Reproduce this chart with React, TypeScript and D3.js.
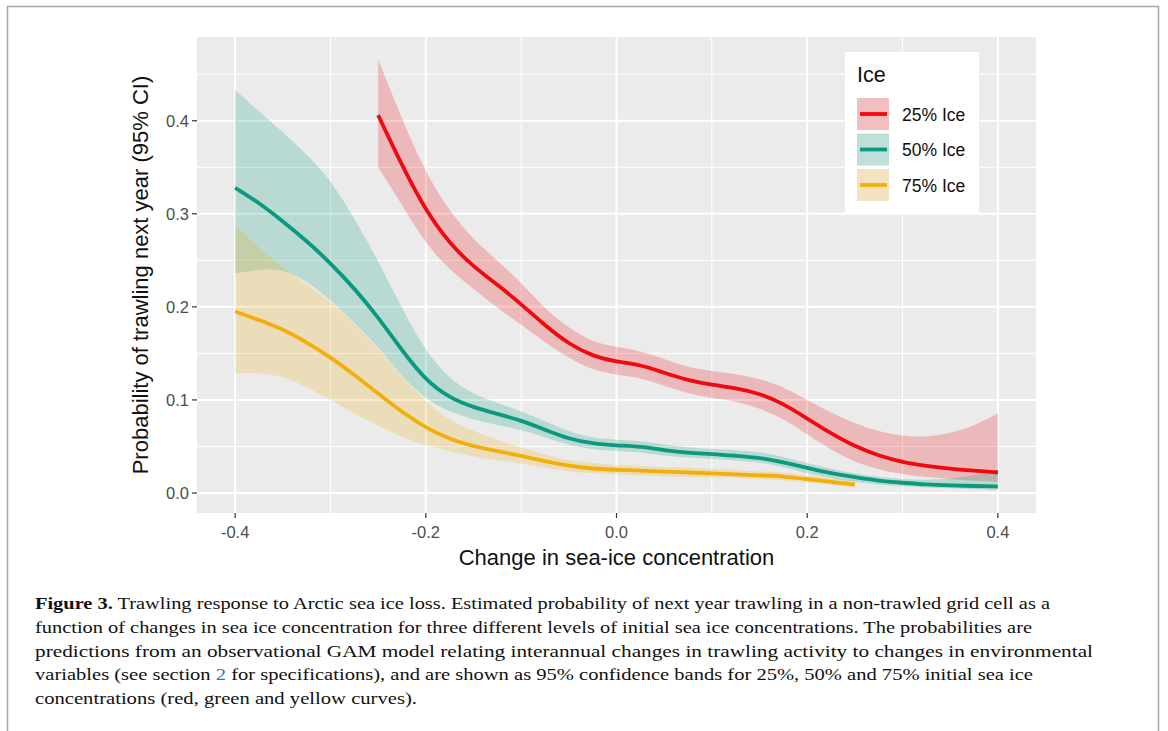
import React from "react";
import * as d3 from "d3";

// ---------- data ----------
const xRed = [-0.25, -0.225, -0.2, -0.175, -0.15, -0.125, -0.1, -0.075, -0.05, -0.025, 0, 0.025, 0.05, 0.075, 0.1, 0.125, 0.15, 0.175, 0.2, 0.225, 0.25, 0.275, 0.3, 0.325, 0.35, 0.375, 0.4];
const redFit = [0.406, 0.352, 0.303, 0.268, 0.243, 0.224, 0.203, 0.18, 0.16, 0.147, 0.141, 0.138, 0.129, 0.121, 0.116, 0.113, 0.107, 0.096, 0.08, 0.064, 0.05, 0.04, 0.033, 0.029, 0.026, 0.024, 0.022];
const redUpper = [0.466, 0.402, 0.343, 0.303, 0.272, 0.25, 0.226, 0.198, 0.177, 0.162, 0.157, 0.153, 0.144, 0.135, 0.131, 0.128, 0.123, 0.114, 0.1, 0.086, 0.075, 0.066, 0.061, 0.06, 0.064, 0.072, 0.086];
const redLower = [0.35, 0.31, 0.267, 0.24, 0.219, 0.199, 0.181, 0.162, 0.145, 0.132, 0.127, 0.124, 0.115, 0.107, 0.102, 0.099, 0.091, 0.08, 0.063, 0.046, 0.033, 0.025, 0.02, 0.017, 0.015, 0.013, 0.012];

const xGreen = [-0.4, -0.375, -0.35, -0.325, -0.3, -0.275, -0.25, -0.225, -0.2, -0.175, -0.15, -0.125, -0.1, -0.075, -0.05, -0.025, 0, 0.025, 0.05, 0.075, 0.1, 0.125, 0.15, 0.175, 0.2, 0.225, 0.25, 0.275, 0.3, 0.325, 0.35, 0.375, 0.4];
const greenFit = [0.328, 0.312, 0.292, 0.271, 0.247, 0.22, 0.189, 0.153, 0.121, 0.102, 0.092, 0.085, 0.078, 0.068, 0.058, 0.053, 0.051, 0.05, 0.046, 0.043, 0.042, 0.04, 0.038, 0.033, 0.027, 0.021, 0.017, 0.013, 0.011, 0.009, 0.008, 0.0075, 0.007];
const greenUpper = [0.433, 0.41, 0.388, 0.364, 0.337, 0.295, 0.25, 0.198, 0.152, 0.122, 0.106, 0.097, 0.088, 0.077, 0.066, 0.059, 0.057, 0.056, 0.052, 0.049, 0.047, 0.046, 0.044, 0.039, 0.032, 0.026, 0.021, 0.017, 0.015, 0.014, 0.015, 0.019, 0.025];
const greenLower = [0.236, 0.24, 0.241, 0.228, 0.207, 0.183, 0.157, 0.125, 0.1, 0.087, 0.079, 0.073, 0.068, 0.06, 0.051, 0.047, 0.045, 0.044, 0.04, 0.038, 0.037, 0.035, 0.033, 0.028, 0.021, 0.016, 0.012, 0.009, 0.007, 0.006, 0.005, 0.004, 0.003];

const xYellow = [-0.4, -0.375, -0.35, -0.325, -0.3, -0.275, -0.25, -0.225, -0.2, -0.175, -0.15, -0.125, -0.1, -0.075, -0.05, -0.025, 0, 0.025, 0.05, 0.075, 0.1, 0.125, 0.15, 0.175, 0.2, 0.225, 0.25];
const yellowFit = [0.195, 0.186, 0.176, 0.162, 0.146, 0.127, 0.107, 0.087, 0.07, 0.058, 0.05, 0.045, 0.04, 0.034, 0.029, 0.026, 0.025, 0.024, 0.023, 0.022, 0.021, 0.02, 0.019, 0.018, 0.015, 0.012, 0.009];
const yellowUpper = [0.288, 0.263, 0.242, 0.225, 0.206, 0.182, 0.155, 0.125, 0.098, 0.078, 0.066, 0.057, 0.049, 0.041, 0.035, 0.032, 0.03, 0.029, 0.028, 0.027, 0.026, 0.025, 0.023, 0.022, 0.019, 0.016, 0.013];
const yellowLower = [0.129, 0.129, 0.126, 0.114, 0.1, 0.085, 0.072, 0.06, 0.051, 0.045, 0.039, 0.035, 0.032, 0.027, 0.023, 0.021, 0.02, 0.019, 0.018, 0.017, 0.017, 0.016, 0.015, 0.014, 0.011, 0.009, 0.006];

const seriesNames = ["25% Ice", "50% Ice", "75% Ice"];
const seriesColors = ["#f00a0f", "#0b9980", "#f2ae0c"];

const xTicks = [-0.4, -0.2, 0.0, 0.2, 0.4];
const xMinor = [-0.3, -0.1, 0.1, 0.3];
const yTicks = [0.0, 0.1, 0.2, 0.3, 0.4];
const yMinor = [0.05, 0.15, 0.25, 0.35, 0.45];

const xTitle = "Change in sea-ice concentration";
const yTitle = "Probability of trawling next year (95% CI)";
const legendTitle = "Ice";

const captionLines = [
  { bold: "Figure 3.", parts: [" Trawling response to Arctic sea ice loss. Estimated probability of next year trawling in a non-trawled grid cell as a"], end: 1050 },
  { bold: "", parts: ["function of changes in sea ice concentration for three different levels of initial sea ice concentrations. The probabilities are"], end: 1032 },
  { bold: "", parts: ["predictions from an observational GAM model relating interannual changes in trawling activity to changes in environmental"], end: 1093 },
  { bold: "", parts: ["variables (see section ", "2", " for specifications), and are shown as 95% confidence bands for 25%, 50% and 75% initial sea ice"], end: 1033 },
  { bold: "", parts: ["concentrations (red, green and yellow curves)."], end: 417 },
];

// ---------- layout ----------
const W = 1168;
const H = 731;
const panel = { left: 197, right: 1036, top: 37, bottom: 513 };

export default function App() {
  const x = d3.scaleLinear().domain([-0.44, 0.44]).range([panel.left, panel.right]);
  const y = d3.scaleLinear().domain([-0.0215, 0.49]).range([panel.bottom, panel.top]);

  const series = [
    { xs: xRed, fit: redFit, up: redUpper, lo: redLower },
    { xs: xGreen, fit: greenFit, up: greenUpper, lo: greenLower },
    { xs: xYellow, fit: yellowFit, up: yellowUpper, lo: yellowLower },
  ];

  const area = d3.area<number>().curve(d3.curveBasis);
  const line = d3.line<[number, number]>().curve(d3.curveBasis);

  const font = "'Liberation Sans', Arial, Helvetica, sans-serif";
  const serif = "'Liberation Serif', 'Times New Roman', serif";

  const legend = { x: 845, y: 52, w: 134, h: 162 };
  const keyX = 857;
  const keyW = 32;
  const keyTops = [98, 133.5, 169];

  return (
    <svg
      width={W}
      height={H}
      style={{ position: "absolute", left: 0, top: 0, background: "#fff" }}
      fontFamily={font}
    >
      <rect x={0} y={0} width={W} height={H} fill="#fff" />
      {/* outer frame */}
      <rect x={7.5} y={6.5} width={1151} height={800} fill="none" stroke="#a6a6a6" strokeWidth={1.5} />

      {/* panel */}
      <rect x={panel.left} y={panel.top} width={panel.right - panel.left} height={panel.bottom - panel.top} fill="#ebebeb" />
      {yMinor.map((v) => (
        <line key={"ym" + v} x1={panel.left} x2={panel.right} y1={y(v)} y2={y(v)} stroke="#fff" strokeWidth={1} />
      ))}
      {xMinor.map((v) => (
        <line key={"xm" + v} y1={panel.top} y2={panel.bottom} x1={x(v)} x2={x(v)} stroke="#fff" strokeWidth={1} />
      ))}
      {yTicks.map((v) => (
        <line key={"yg" + v} x1={panel.left} x2={panel.right} y1={y(v)} y2={y(v)} stroke="#fff" strokeWidth={2} />
      ))}
      {xTicks.map((v) => (
        <line key={"xg" + v} y1={panel.top} y2={panel.bottom} x1={x(v)} x2={x(v)} stroke="#fff" strokeWidth={2} />
      ))}

      {/* ribbons */}
      {series.map((s, i) => {
        const idx = s.xs.map((_, k) => k);
        const a = area
          .x((k) => x(s.xs[k]))
          .y0((k) => y(s.lo[k]))
          .y1((k) => y(s.up[k]));
        return <path key={"band" + i} d={a(idx) || ""} fill={seriesColors[i]} fillOpacity={0.22} stroke="none" />;
      })}
      {/* fitted lines */}
      {series.map((s, i) => {
        const pts = s.xs.map((xv, k) => [x(xv), y(s.fit[k])] as [number, number]);
        return <path key={"line" + i} d={line(pts) || ""} fill="none" stroke={seriesColors[i]} strokeWidth={3.8} />;
      })}

      {/* y axis */}
      {yTicks.map((v) => (
        <g key={"yt" + v}>
          <line x1={panel.left - 5} x2={panel.left} y1={y(v)} y2={y(v)} stroke="#333" strokeWidth={1.2} />
          <text x={panel.left - 8} y={y(v)} dy="0.36em" textAnchor="end" fontSize={16.5} fill="#4d4d4d">
            {d3.format(".1f")(v)}
          </text>
        </g>
      ))}
      {/* x axis */}
      {xTicks.map((v) => (
        <g key={"xt" + v}>
          <line x1={x(v)} x2={x(v)} y1={panel.bottom} y2={panel.bottom + 5} stroke="#333" strokeWidth={1.2} />
          <text x={x(v)} y={538} textAnchor="middle" fontSize={16.5} fill="#4d4d4d">
            {d3.format(".1f")(v).replace("−", "-")}
          </text>
        </g>
      ))}

      <text x={(panel.left + panel.right) / 2} y={565} textAnchor="middle" fontSize={22} fill="#111">
        {xTitle}
      </text>
      <text
        transform={`translate(148, ${(panel.top + panel.bottom) / 2}) rotate(-90)`}
        textAnchor="middle"
        fontSize={22}
        fill="#111"
      >
        {yTitle}
      </text>

      {/* legend */}
      <rect x={legend.x} y={legend.y} width={legend.w} height={legend.h} fill="#fff" />
      <text x={keyX} y={82} fontSize={21.5} fill="#111">
        {legendTitle}
      </text>
      {seriesNames.map((name, i) => (
        <g key={"lg" + i}>
          <rect x={keyX} y={keyTops[i]} width={keyW} height={32} fill="#f2f2f2" />
          <rect x={keyX} y={keyTops[i]} width={keyW} height={32} fill={seriesColors[i]} fillOpacity={0.22} />
          <line
            x1={keyX + 3}
            x2={keyX + keyW - 2}
            y1={keyTops[i] + 16}
            y2={keyTops[i] + 16}
            stroke={seriesColors[i]}
            strokeWidth={3.8}
          />
          <text x={902} y={keyTops[i] + 22.5} fontSize={17.5} fill="#111">
            {name}
          </text>
        </g>
      ))}

      {/* caption */}
      {captionLines.map((ln, i) => (
        <text
          key={"cap" + i}
          x={35}
          y={609 + i * 23.8}
          fontFamily={serif}
          fontSize={17.5}
          fill="#111"
          textLength={ln.end - 35}
          lengthAdjust="spacingAndGlyphs"
        >
          {ln.bold ? <tspan fontWeight="bold">{ln.bold}</tspan> : null}
          {ln.parts.map((p, k) => (
            <tspan key={k} fill={p === "2" ? "#2a7ab0" : "#111"}>
              {p}
            </tspan>
          ))}
        </text>
      ))}
    </svg>
  );
}
